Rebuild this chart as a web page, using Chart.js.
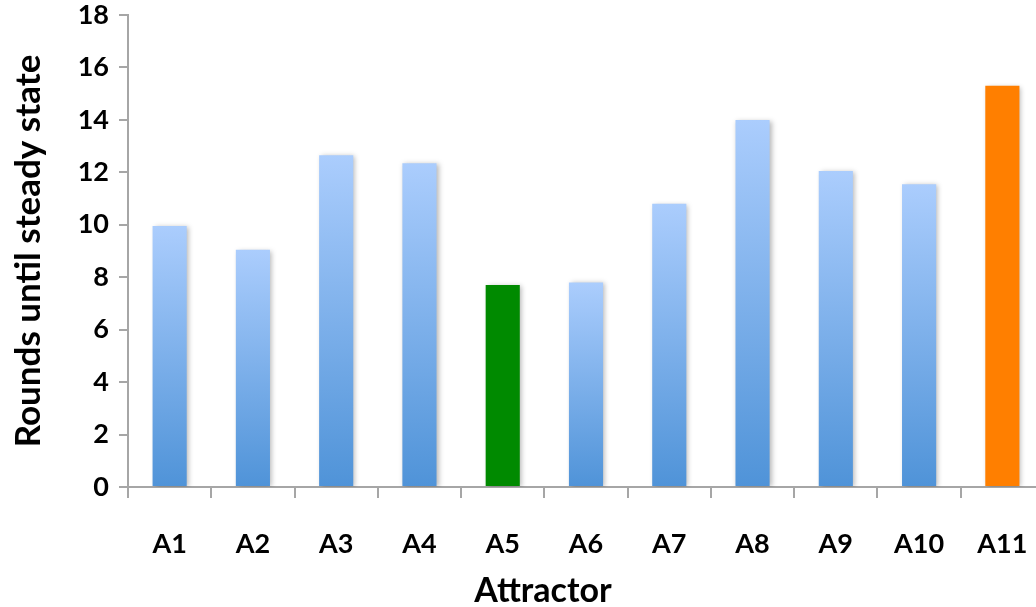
<!DOCTYPE html>
<html>
<head>
<meta charset="utf-8">
<script src="https://cdn.jsdelivr.net/npm/chart.js@4/dist/chart.umd.min.js"></script>
<style>
  html, body { margin: 0; padding: 0; background: #fff; overflow: hidden; }
  #wrap { width: 1046px; height: 607px; }
</style>
</head>
<body>
<div id="wrap"><canvas id="rounds"></canvas></div>
<script>
// Rounds until steady state per attractor
const attractors = ['A1', 'A2', 'A3', 'A4', 'A5', 'A6', 'A7', 'A8', 'A9', 'A10', 'A11'];
const rounds = [9.95, 9.05, 12.65, 12.35, 7.7, 7.8, 10.8, 14.0, 12.05, 11.55, 15.3];
const yTicks = [0, 2, 4, 6, 8, 10, 12, 14, 16, 18];

const FONT = 'Lato, "Open Sans", sans-serif';
const AXIS_GREY = '#a6a6a6';

// solid fills for highlighted attractors, others get the blue gradient
const highlight = { A5: '#008a00', A11: '#ff7f00' };

function barFill(context) {
    const label = attractors[context.dataIndex];
    if (highlight[label]) return highlight[label];
    const { chart } = context;
    const area = chart.chartArea;
    if (!area) return '#8cb8ee';
    const yScale = chart.scales.y;
    const top = yScale.getPixelForValue(rounds[context.dataIndex]);
    const bottom = yScale.getPixelForValue(0);
    const g = chart.ctx.createLinearGradient(0, top, 0, bottom);
    g.addColorStop(0, '#abcdfd');
    g.addColorStop(1, '#4f93d8');
    return g;
}

// soft drop shadow behind the bars
const barShadow = {
    id: 'barShadow',
    beforeDatasetsDraw(chart) {
        const ctx = chart.ctx;
        ctx.save();
        ctx.shadowColor = 'rgba(0, 0, 0, 0.28)';
        ctx.shadowBlur = 5;
        ctx.shadowOffsetX = 2;
        ctx.shadowOffsetY = 1;
    },
    afterDatasetsDraw(chart) {
        chart.ctx.restore();
    }
};

// x axis title sits a little left of the plot centre
const xTitle = {
    id: 'xTitle',
    afterDraw(chart) {
        const ctx = chart.ctx;
        const area = chart.chartArea;
        ctx.save();
        ctx.font = `bold 34px ${FONT}`;
        ctx.fillStyle = '#000';
        ctx.textAlign = 'center';
        ctx.textBaseline = 'middle';
        ctx.fillText('Attractor', area.left + 415, area.bottom + 104);
        ctx.restore();
    }
};

new Chart(document.getElementById('rounds'), {
    type: 'bar',
    data: {
        labels: attractors,
        datasets: [{
            data: rounds,
            backgroundColor: barFill,
            borderWidth: 0,
            categoryPercentage: 1,
            barPercentage: 0.41
        }]
    },
    plugins: [barShadow, xTitle],
    options: {
        responsive: true,
        maintainAspectRatio: false,
        animation: false,
        layout: { padding: { top: 15, right: 2, left: 0, bottom: 0 } },
        plugins: {
            legend: { display: false },
            tooltip: { enabled: false }
        },
        scales: {
            x: {
                offset: true,
                grid: {
                    offset: true,
                    drawOnChartArea: false,
                    drawTicks: true,
                    tickLength: 11,
                    color: AXIS_GREY,
                    lineWidth: 2
                },
                border: { color: AXIS_GREY, width: 2 },
                ticks: {
                    color: '#000',
                    padding: 30,
                    maxRotation: 0,
                    font: { family: FONT, size: 27, weight: 'bold' }
                },
                afterFit(scale) {
                    scale.height = 120;
                    scale.paddingLeft = 0;
                    scale.paddingRight = 0;
                }
            },
            y: {
                min: 0,
                max: 18,
                afterBuildTicks(scale) {
                    scale.ticks = yTicks.map(v => ({ value: v }));
                },
                grid: {
                    drawOnChartArea: false,
                    drawTicks: true,
                    tickLength: 9,
                    color: AXIS_GREY,
                    lineWidth: 2
                },
                border: { color: AXIS_GREY, width: 2 },
                ticks: {
                    color: '#000',
                    padding: 10,
                    font: { family: FONT, size: 27, weight: 'bold' }
                },
                title: {
                    display: true,
                    text: 'Rounds until steady state',
                    color: '#000',
                    padding: { top: 8, bottom: 0 },
                    font: { family: FONT, size: 35, weight: 'bold' }
                },
                afterFit(scale) {
                    scale.width = 128;
                    scale.paddingTop = 0;
                    scale.paddingBottom = 0;
                }
            }
        }
    }
});
</script>
</body>
</html>
